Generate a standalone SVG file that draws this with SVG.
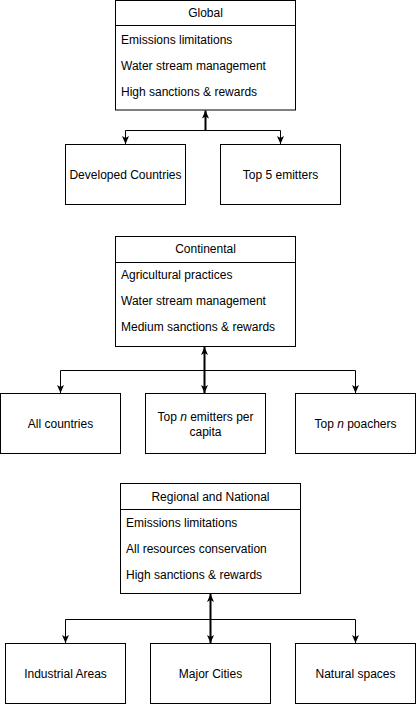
<svg xmlns="http://www.w3.org/2000/svg" width="417" height="705" viewBox="0 0 417 705">
<style>
.box{fill:#fff;stroke:#000;stroke-width:1}
.hd{stroke:#000;stroke-width:1}
.t{font-family:"Liberation Sans",Arial,sans-serif;font-size:12px;fill:#000}
.c{text-anchor:middle}
.e{fill:none;stroke:#000;stroke-width:1}
.e2{fill:none;stroke:#000;stroke-width:2}
</style>
<defs>
<marker id="ah" markerUnits="userSpaceOnUse" markerWidth="9" markerHeight="8" refX="8" refY="3.5" orient="auto">
<path d="M0,0 L8,3.5 L0,7 L2,3.5 z" fill="#000"/>
</marker>
<marker id="ahs" markerUnits="userSpaceOnUse" markerWidth="9" markerHeight="8" refX="0" refY="3.5" orient="auto">
<path d="M8,0 L0,3.5 L8,7 L6,3.5 z" fill="#000"/>
</marker>
</defs>
<g id="connectors">
<path class="e2" d="M205.5,131 V110.5" marker-end="url(#ah)"/>
<path class="e" d="M205.5,130.5 H125.5 V144" marker-end="url(#ah)"/>
<path class="e" d="M205.5,130.5 H280.5 V144" marker-end="url(#ah)"/>
<path class="e2" d="M204.5,347 V393" marker-start="url(#ahs)" marker-end="url(#ah)"/>
<path class="e" d="M204.5,370.5 H60.5 V393" marker-end="url(#ah)"/>
<path class="e" d="M204.5,370.5 H355.5 V393" marker-end="url(#ah)"/>
<path class="e2" d="M210.5,594 V643" marker-start="url(#ahs)" marker-end="url(#ah)"/>
<path class="e" d="M210.5,619.5 H65.5 V643" marker-end="url(#ah)"/>
<path class="e" d="M210.5,619.5 H355.5 V643" marker-end="url(#ah)"/>
</g>
<g id="global">
<rect class="box" x="115.5" y="0.5" width="180" height="109.5"/>
<line class="hd" x1="115.5" y1="25.5" x2="295.5" y2="25.5"/>
<text class="t c" x="205.5" y="17">Global</text>
<text class="t" x="121" y="44">Emissions limitations</text>
<text class="t" x="121" y="70">Water stream management</text>
<text class="t" x="121" y="96">High sanctions &amp; rewards</text>
</g>
<g id="developed">
<rect class="box" x="65.5" y="144.5" width="120" height="60"/>
<text class="t c" x="125.5" y="178.5">Developed Countries</text>
</g>
<g id="top5">
<rect class="box" x="220.5" y="144.5" width="120" height="60"/>
<text class="t c" x="280.5" y="178.5">Top 5 emitters</text>
</g>
<g id="continental">
<rect class="box" x="115.5" y="236.5" width="180" height="110"/>
<line class="hd" x1="115.5" y1="262.5" x2="295.5" y2="262.5"/>
<text class="t c" x="205.5" y="253">Continental</text>
<text class="t" x="121" y="279">Agricultural practices</text>
<text class="t" x="121" y="305">Water stream management</text>
<text class="t" x="121" y="331">Medium sanctions &amp; rewards</text>
</g>
<g id="allcountries">
<rect class="box" x="0.5" y="393.5" width="120" height="60"/>
<text class="t c" x="60.5" y="427.5">All countries</text>
</g>
<g id="topnemitters">
<rect class="box" x="145.5" y="393.5" width="120" height="60"/>
<text class="t c" x="205.5" y="420.5">Top <tspan font-style="italic">n</tspan> emitters per</text>
<text class="t c" x="205.5" y="435.5">capita</text>
</g>
<g id="topnpoachers">
<rect class="box" x="295.5" y="393.5" width="120" height="60"/>
<text class="t c" x="355.5" y="427.5">Top <tspan font-style="italic">n</tspan> poachers</text>
</g>
<g id="regional">
<rect class="box" x="120.5" y="483.5" width="180" height="110"/>
<line class="hd" x1="120.5" y1="509.5" x2="300.5" y2="509.5"/>
<text class="t c" x="210.5" y="501">Regional and National</text>
<text class="t" x="126" y="527">Emissions limitations</text>
<text class="t" x="126" y="553">All resources conservation</text>
<text class="t" x="126" y="579">High sanctions &amp; rewards</text>
</g>
<g id="industrial">
<rect class="box" x="5.5" y="643.5" width="120" height="60"/>
<text class="t c" x="65.5" y="677.5">Industrial Areas</text>
</g>
<g id="cities">
<rect class="box" x="150.5" y="643.5" width="120" height="60"/>
<text class="t c" x="210.5" y="677.5">Major Cities</text>
</g>
<g id="natural">
<rect class="box" x="295.5" y="643.5" width="120" height="60"/>
<text class="t c" x="355.5" y="677.5">Natural spaces</text>
</g>
</svg>
